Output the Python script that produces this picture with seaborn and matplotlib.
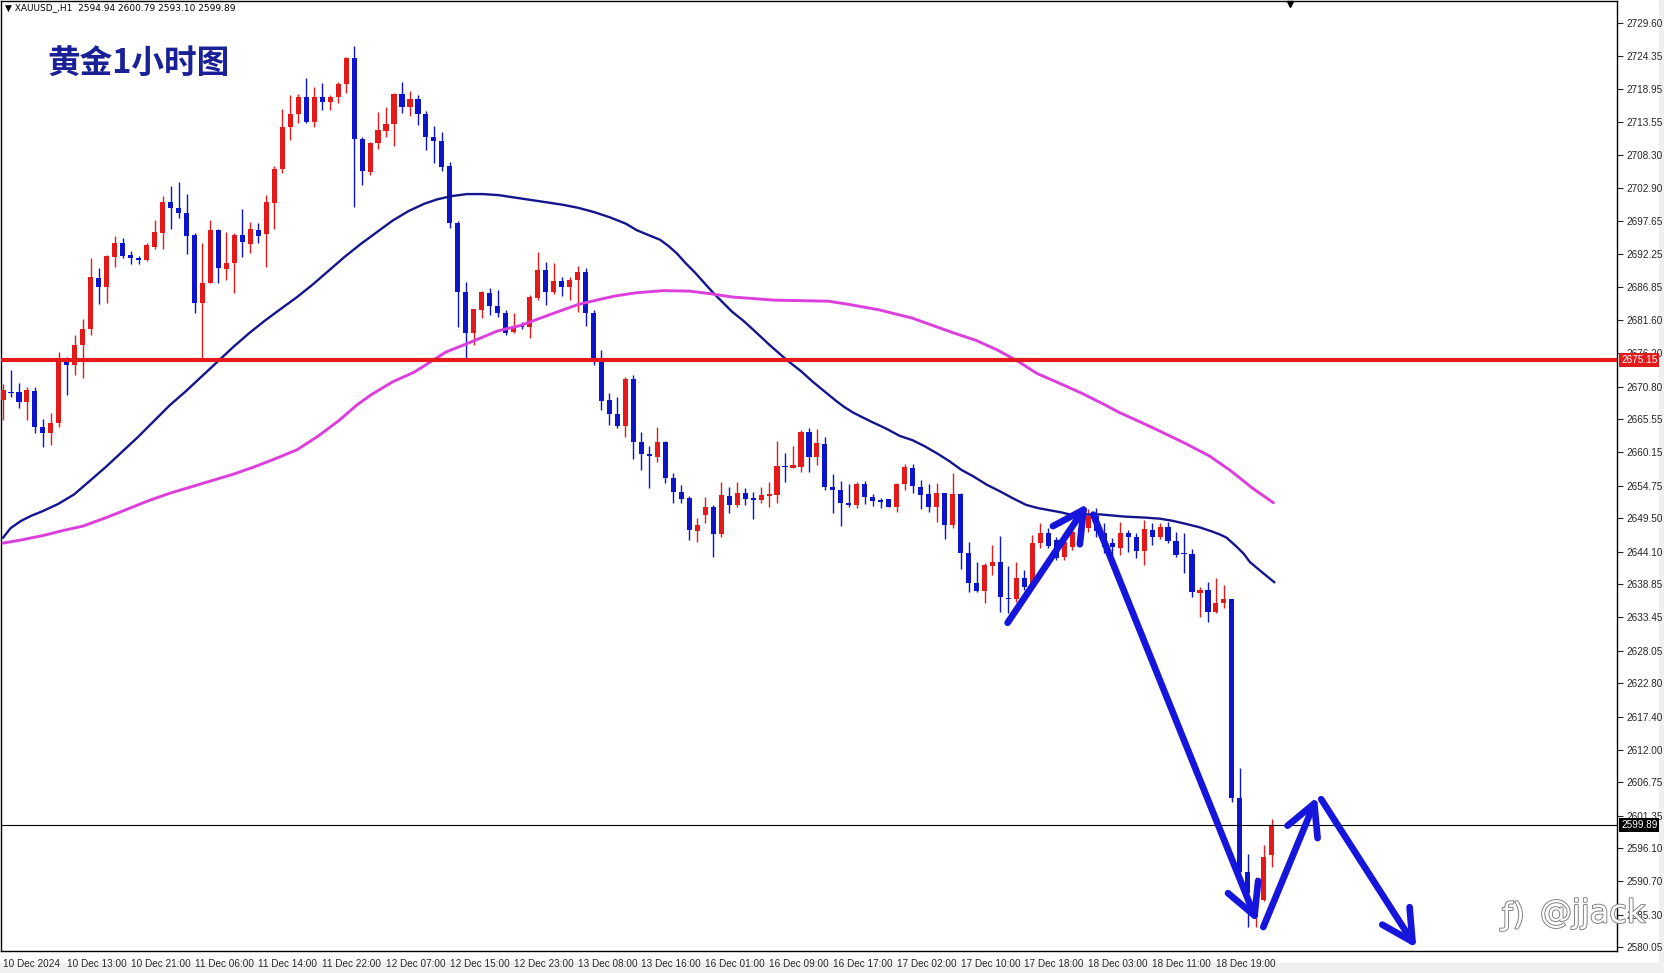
import matplotlib
matplotlib.use('Agg')
import matplotlib.pyplot as plt
import matplotlib.patheffects as pe
from matplotlib.patches import Rectangle, FancyArrowPatch
import seaborn as sns
import pandas as pd

# XAUUSD H1 candles (oldest -> newest)
opens = [2668.63, 2669.90, 2669.98, 2668.36, 2670.09, 2664.21, 2663.24, 2664.86, 2674.84, 2674.30,
         2677.54, 2680.07, 2688.33, 2686.98, 2691.83, 2693.99, 2692.05, 2691.56, 2691.29, 2693.45,
         2695.72, 2700.63, 2699.66, 2698.85, 2695.34, 2684.28, 2687.62, 2696.15, 2689.84, 2690.75,
         2695.34, 2693.88, 2696.15, 2695.45, 2700.58, 2705.97, 2712.77, 2714.92, 2717.62, 2713.68,
         2717.62, 2716.81, 2717.62, 2719.78, 2723.93, 2710.82, 2705.59, 2710.18, 2712.23, 2713.25,
         2718.16, 2716.00, 2717.30, 2714.92, 2711.15, 2710.55, 2706.51, 2697.28, 2686.17, 2679.43,
         2683.20, 2685.90, 2683.85, 2682.66, 2679.70, 2680.77, 2680.40, 2685.09, 2689.68, 2686.06,
         2687.95, 2686.87, 2688.06, 2689.41, 2682.77, 2674.95, 2668.64, 2666.37, 2664.48, 2672.03,
         2661.78, 2659.84, 2659.46, 2661.78, 2655.96, 2653.80, 2652.83, 2647.49, 2650.02, 2651.37,
         2646.95, 2653.15, 2651.64, 2653.53, 2652.56, 2652.45, 2653.15, 2653.26, 2657.95, 2657.68,
         2657.85, 2663.40, 2659.36, 2661.46, 2654.50, 2654.07, 2651.91, 2651.64, 2655.04, 2652.98,
         2652.44, 2652.55, 2651.25, 2655.03, 2657.57, 2654.49, 2653.41, 2651.36, 2653.52, 2648.40,
         2653.41, 2643.81, 2639.06, 2637.77, 2641.81, 2642.46, 2636.63, 2636.36, 2639.76, 2638.41,
         2645.54, 2647.05, 2645.97, 2643.16, 2644.89, 2647.16, 2647.86, 2649.90, 2647.06, 2645.44,
         2644.63, 2647.16, 2646.41, 2644.25, 2647.59, 2646.41, 2648.03, 2645.87, 2643.82, 2643.71,
         2637.45, 2637.88, 2634.38, 2635.73, 2636.37, 2604.17, 2592.30, 2585.00, 2587.71, 2594.94]
highs = [2671.30, 2673.49, 2671.33, 2670.79, 2670.79, 2665.51, 2666.58, 2676.46, 2675.65, 2679.15,
         2681.69, 2691.56, 2690.05, 2692.10, 2695.18, 2694.80, 2692.80, 2691.94, 2693.99, 2697.77,
         2701.71, 2703.32, 2703.97, 2701.98, 2695.72, 2693.99, 2697.77, 2696.31, 2695.88, 2695.61,
         2699.49, 2697.44, 2697.23, 2701.81, 2706.51, 2715.68, 2718.00, 2718.16, 2720.70, 2719.24,
         2719.89, 2718.00, 2720.16, 2724.20, 2725.93, 2711.25, 2710.45, 2715.30, 2716.11, 2718.27,
         2720.16, 2718.70, 2718.00, 2715.46, 2712.98, 2712.06, 2707.20, 2697.60, 2687.79, 2683.40,
         2686.30, 2686.71, 2686.44, 2683.20, 2682.66, 2681.31, 2685.63, 2692.64, 2691.03, 2690.76,
         2688.60, 2688.60, 2690.32, 2689.95, 2683.20, 2676.73, 2669.72, 2669.18, 2672.41, 2672.68,
         2663.51, 2661.19, 2664.32, 2662.05, 2656.87, 2654.88, 2653.10, 2649.48, 2652.99, 2651.64,
         2655.42, 2654.61, 2655.42, 2654.34, 2653.80, 2654.50, 2655.42, 2662.05, 2660.00, 2661.19,
         2663.78, 2664.05, 2663.89, 2662.70, 2656.66, 2655.58, 2655.04, 2655.42, 2655.58, 2653.41,
         2652.71, 2652.66, 2655.14, 2658.27, 2658.27, 2655.68, 2655.03, 2655.25, 2653.63, 2656.76,
         2653.50, 2645.70, 2642.46, 2642.19, 2645.16, 2646.62, 2641.76, 2642.46, 2641.11, 2646.78,
         2648.67, 2647.86, 2646.51, 2645.97, 2647.59, 2648.70, 2651.00, 2651.20, 2648.67, 2646.25,
         2648.94, 2647.59, 2647.06, 2649.21, 2648.78, 2648.67, 2648.94, 2647.32, 2647.06, 2644.47,
         2638.32, 2639.23, 2639.77, 2638.69, 2636.40, 2609.02, 2595.15, 2591.50, 2596.61, 2600.79]
lows = [2665.40, 2669.10, 2667.29, 2665.40, 2663.24, 2661.08, 2661.35, 2664.32, 2669.44, 2672.68,
        2672.14, 2679.15, 2684.17, 2684.28, 2690.11, 2691.56, 2690.65, 2690.65, 2691.18, 2693.02,
        2693.02, 2696.26, 2698.04, 2692.26, 2682.66, 2674.95, 2687.52, 2687.62, 2688.06, 2685.90,
        2691.83, 2692.37, 2693.99, 2690.21, 2696.26, 2705.32, 2710.72, 2713.41, 2713.41, 2712.87,
        2715.57, 2715.57, 2716.65, 2718.38, 2699.93, 2703.43, 2705.05, 2709.20, 2711.25, 2709.74,
        2715.14, 2714.60, 2713.14, 2709.10, 2706.94, 2705.70, 2696.50, 2680.51, 2675.38, 2677.54,
        2681.85, 2682.39, 2682.12, 2679.16, 2679.43, 2680.07, 2678.62, 2684.82, 2684.01, 2685.79,
        2685.52, 2684.82, 2682.93, 2680.61, 2674.30, 2667.02, 2664.59, 2664.05, 2662.70, 2659.09,
        2657.31, 2654.34, 2658.65, 2655.15, 2651.91, 2651.91, 2645.98, 2645.71, 2648.67, 2643.28,
        2646.52, 2650.29, 2651.37, 2651.64, 2649.37, 2652.02, 2651.37, 2651.91, 2655.42, 2657.58,
        2657.04, 2657.04, 2658.12, 2654.07, 2650.40, 2648.24, 2651.26, 2651.10, 2651.80, 2651.47,
        2651.09, 2651.25, 2650.55, 2654.06, 2653.52, 2650.93, 2650.55, 2648.94, 2646.08, 2647.86,
        2641.22, 2637.61, 2637.61, 2635.83, 2640.30, 2634.37, 2634.21, 2635.99, 2637.87, 2638.14,
        2644.62, 2644.62, 2642.73, 2642.73, 2644.35, 2646.20, 2647.30, 2646.50, 2643.82, 2643.55,
        2643.55, 2644.09, 2643.01, 2641.93, 2645.17, 2646.08, 2645.54, 2643.17, 2640.69, 2636.70,
        2633.46, 2632.76, 2634.21, 2634.92, 2603.63, 2592.03, 2583.39, 2583.30, 2587.60, 2593.10]
closes = [2670.25, 2669.70, 2668.36, 2670.25, 2664.21, 2663.35, 2664.86, 2674.95, 2674.30, 2677.54,
          2680.07, 2688.49, 2686.98, 2691.94, 2693.99, 2691.94, 2691.56, 2691.29, 2693.67, 2695.88,
          2700.63, 2699.66, 2698.85, 2695.18, 2684.28, 2687.62, 2696.15, 2689.94, 2690.75, 2695.34,
          2694.15, 2696.31, 2695.23, 2700.63, 2706.02, 2712.77, 2714.92, 2717.62, 2713.68, 2717.62,
          2716.81, 2717.62, 2719.78, 2723.93, 2710.82, 2705.70, 2710.18, 2712.33, 2713.25, 2718.16,
          2716.00, 2717.30, 2714.92, 2711.15, 2710.55, 2706.29, 2697.28, 2686.17, 2679.43, 2683.31,
          2686.17, 2683.85, 2682.66, 2679.43, 2680.40, 2680.40, 2685.36, 2689.68, 2686.17, 2687.95,
          2686.98, 2688.06, 2689.41, 2682.77, 2675.38, 2668.53, 2666.32, 2664.48, 2672.03, 2661.78,
          2659.84, 2659.57, 2661.78, 2655.96, 2653.80, 2652.56, 2647.60, 2648.40, 2651.37, 2646.95,
          2653.26, 2651.64, 2653.53, 2652.56, 2652.45, 2653.26, 2653.42, 2657.95, 2657.74, 2658.12,
          2663.40, 2659.36, 2661.62, 2654.50, 2654.07, 2651.91, 2651.64, 2655.04, 2652.99, 2652.33,
          2652.17, 2651.36, 2655.03, 2657.84, 2654.71, 2653.25, 2651.36, 2653.52, 2648.40, 2653.41,
          2643.81, 2639.06, 2637.77, 2641.92, 2642.46, 2636.69, 2636.36, 2639.76, 2638.41, 2645.54,
          2647.05, 2644.98, 2643.00, 2645.70, 2647.32, 2647.86, 2649.90, 2647.40, 2644.90, 2644.90,
          2647.06, 2646.52, 2644.25, 2647.70, 2646.41, 2648.03, 2645.87, 2643.55, 2643.66, 2637.61,
          2637.88, 2634.38, 2635.73, 2636.37, 2604.17, 2592.30, 2588.79, 2587.70, 2594.72, 2599.89]

x_labels = ['10 Dec 2024', '10 Dec 13:00', '10 Dec 21:00', '11 Dec 06:00', '11 Dec 14:00',
            '11 Dec 22:00', '12 Dec 07:00', '12 Dec 15:00', '12 Dec 23:00', '13 Dec 08:00',
            '13 Dec 16:00', '16 Dec 01:00', '16 Dec 09:00', '16 Dec 17:00', '17 Dec 02:00',
            '17 Dec 10:00', '17 Dec 18:00', '18 Dec 03:00', '18 Dec 11:00', '18 Dec 19:00']
y_ticks = [2729.60, 2724.35, 2718.95, 2713.55, 2708.30, 2702.90, 2697.65, 2692.25, 2686.85,
           2681.60, 2676.20, 2670.80, 2665.55, 2660.15, 2654.75, 2649.50, 2644.10, 2638.85,
           2633.45, 2628.05, 2622.80, 2617.40, 2612.00, 2606.75, 2601.35, 2596.10, 2590.70,
           2585.30, 2580.05]

# moving averages (blue = faster, magenta = slower)
fast_ma_bar = [0, 0.95, 2.28, 3.61, 4.94, 6.94, 8.93, 10.93, 12.92, 14.92, 16.91, 18.91, 20.90,
               22.89, 24.89, 26.88, 28.88, 30.87, 32.87, 34.86, 36.86, 38.85, 40.85, 42.84,
               44.84, 46.83, 48.83, 50.82, 52.82, 54.41, 56.14, 58.14, 60.13, 62.12, 64.78,
               67.44, 70.10, 72.10, 74.09, 76.09, 78.08, 79.41, 81.01, 82.34, 83.40, 84.46,
               85.53, 86.72, 87.79, 88.99, 90.18, 91.38, 92.71, 94.04, 96.03, 98.16, 100.02,
               101.49, 102.95, 104.41, 105.48, 106.54, 107.60, 108.67, 110.66, 112.39, 113.99,
               115.58, 117.18, 118.64, 120.10, 121.57, 123.30, 124.89, 126.62, 128.22, 129.68,
               131.14, 132.60, 133.67, 135.26, 137.52, 140.58, 143.24, 144.97, 146.57, 148.30,
               149.89, 151.49, 152.55, 153.35, 154.54, 155.48, 156.27, 157.87, 159.33]
fast_ma_val = [2646.33, 2647.89, 2649.08, 2649.93, 2650.62, 2651.82, 2653.37, 2655.60, 2657.83,
               2660.24, 2662.64, 2665.22, 2667.79, 2670.02, 2672.43, 2674.83, 2677.24, 2679.47,
               2681.53, 2683.42, 2685.30, 2687.36, 2689.60, 2691.83, 2693.89, 2695.78, 2697.67,
               2699.21, 2700.41, 2701.10, 2701.62, 2701.96, 2701.96, 2701.79, 2701.27, 2700.76,
               2700.24, 2699.73, 2699.04, 2698.18, 2697.15, 2696.12, 2695.26, 2694.57, 2693.55,
               2692.34, 2690.80, 2689.25, 2687.71, 2685.99, 2684.45, 2682.90, 2681.53, 2679.98,
               2677.58, 2675.17, 2673.28, 2671.57, 2670.02, 2668.48, 2667.45, 2666.59, 2665.90,
               2665.21, 2664.01, 2662.81, 2662.12, 2661.09, 2659.89, 2658.69, 2657.32, 2656.29,
               2654.91, 2653.88, 2652.68, 2651.65, 2651.14, 2650.79, 2650.45, 2650.11, 2650.11,
               2650.11, 2649.76, 2649.59, 2649.42, 2649.08, 2648.56, 2648.05, 2647.36, 2646.84,
               2646.33, 2644.95, 2643.75, 2642.38, 2640.66, 2639.12]
slow_ma_bar = [0, 2.28, 4.94, 7.60, 9.99, 12.92, 15.58, 18.24, 20.90, 23.56, 26.22, 28.88, 31.54,
               33.93, 36.86, 39.52, 42.18, 44.31, 46.17, 48.83, 51.49, 53.61, 55.48, 58.14,
               61.99, 64.79, 68.77, 72.10, 74.36, 76.75, 79.41, 82.74, 86.06, 88.72, 91.38,
               96.70, 103.48, 106.01, 109.73, 113.98, 119.17, 121.96, 124.62, 127.28, 129.55,
               132.60, 135.26, 137.92, 139.92, 142.58, 144.57, 148.16, 151.22, 153.88, 156.54,
               159.20]
slow_ma_val = [2645.47, 2645.98, 2646.67, 2647.53, 2648.21, 2649.59, 2650.96, 2652.34, 2653.54,
               2654.57, 2655.60, 2656.63, 2657.83, 2659.03, 2660.58, 2662.81, 2665.39, 2667.79,
               2669.51, 2671.57, 2673.11, 2674.83, 2676.38, 2677.75, 2679.81, 2680.67, 2682.56,
               2684.10, 2684.79, 2685.48, 2685.99, 2686.33, 2686.25, 2685.82, 2685.30, 2684.79,
               2684.62, 2684.10, 2683.24, 2681.87, 2679.47, 2678.27, 2676.72, 2674.83, 2672.94,
               2671.22, 2669.68, 2667.96, 2666.59, 2665.04, 2663.84, 2661.61, 2659.55, 2657.15,
               2654.40, 2652.00]

level_price = 2675.15
last_price = 2599.89

# hand drawn arrows: (bar, price) start -> end
arrow_from = [(125.7, 2632.2), (136.5, 2650.5), (157.8, 2582.9), (165.0, 2604.4)]
arrow_to = [(136.1, 2652.2), (157.3, 2583.7), (164.8, 2604.8), (177.3, 2579.6)]

df = pd.DataFrame({'open': opens, 'high': highs, 'low': lows, 'close': closes})
df['bar'] = range(len(df))
df['up'] = df['close'] >= df['open']

sns.set_style('white')
plt.rcParams['font.family'] = ['DejaVu Sans', 'Noto Sans CJK SC']

red = '#e41a1a'
blue = '#0c14cc'
tick_font = 'Liberation Sans'

fig = plt.figure(figsize=(16.64, 9.73), dpi=100)
fig.patch.set_facecolor('white')
fig.add_artist(Rectangle((0, 0), 1, 10 / 973, transform=fig.transFigure, color='#efefef', zorder=0))
fig.add_artist(Rectangle((1659 / 1664, 0), 5 / 1664, 1, transform=fig.transFigure, color='#efefef', zorder=0))

ax = fig.add_axes([1 / 1664, 1 - 951 / 973, 1616 / 1664, 950 / 973])
ax.set_facecolor('white')

colors = [red if u else blue for u in df['up']]
ax.vlines(df['bar'], df['low'], df['high'], colors=colors, linewidth=1.0, zorder=2)
body_bottom = df[['open', 'close']].min(axis=1)
body_h = (df['close'] - df['open']).abs().clip(lower=0.25)
ax.bar(df['bar'], body_h, bottom=body_bottom, width=0.64, color=colors, linewidth=0, zorder=3)

sns.lineplot(x=fast_ma_bar, y=fast_ma_val, ax=ax, color='#14148e', linewidth=1.7, zorder=4)
sns.lineplot(x=slow_ma_bar, y=slow_ma_val, ax=ax, color='#dd3fdd', linewidth=2.1, zorder=4)

ax.axhline(level_price, color=red, linewidth=3.0, zorder=5)
ax.axhline(last_price, color='black', linewidth=0.8, zorder=5)

for a, b in zip(arrow_from, arrow_to):
    ax.add_patch(FancyArrowPatch(a, b, arrowstyle='->,head_length=0.85,head_width=0.45',
                                 mutation_scale=26, color='#1515dc', linewidth=4.8,
                                 capstyle='round', joinstyle='round', zorder=6, clip_on=False))

ax.set_xlim(-0.25, 202.26)
ax.set_ylim(2579.45, 2733.21)

ax.set_xticks(range(0, 8 * len(x_labels), 8))
ax.set_xticklabels(x_labels, ha='left', family=tick_font)
ax.set_yticks(y_ticks)
ax.set_yticklabels([f'{v:.2f}' for v in y_ticks], family=tick_font)
ax.yaxis.tick_right()
ax.tick_params(axis='y', direction='out', length=4, width=0.8, labelsize=7.2, pad=3,
               right=True, left=False, labelright=True, labelleft=False)
ax.tick_params(axis='x', direction='out', length=4, width=0.8, labelsize=7.2, pad=2)
ax.set_xlabel('')
ax.set_ylabel('')
for s in ax.spines.values():
    s.set_visible(True)
    s.set_color('black')
    s.set_linewidth(1.0)

ytr = ax.get_yaxis_transform()
ax.text(1.0025, level_price, f'{level_price:.2f}', transform=ytr, ha='left', va='center',
        fontsize=7.2, family=tick_font, color='white', zorder=10, clip_on=False,
        bbox=dict(boxstyle='square,pad=0.2', fc=red, ec='none'))
ax.text(1.0025, last_price, f'{last_price:.2f}', transform=ytr, ha='left', va='center',
        fontsize=7.2, family=tick_font, color='white', zorder=10, clip_on=False,
        bbox=dict(boxstyle='square,pad=0.2', fc='black', ec='none'))

ax.plot([161.3], [1 - 3 / 950], transform=ax.get_xaxis_transform(), marker='v', ms=5,
        color='black', clip_on=False, zorder=10)

fig.text(5 / 1664, 1 - 8 / 973, '\u25bc XAUUSD_,H1  2594.94 2600.79 2593.10 2599.89',
         fontsize=6.5, va='center', ha='left', color='black')
fig.text(47 / 1664, 1 - 63 / 973, '黄金1小时图', fontsize=23.5, fontweight='bold',
         color='#1a2196', family=['Noto Sans CJK SC', 'DejaVu Sans'], va='center', ha='left')

wm = [pe.withStroke(linewidth=1.3, foreground='#7a7a7a')]
fig.text(1502 / 1664, 1 - 916 / 973, '\u0192)', fontsize=22, color='white',
         path_effects=wm, va='center', ha='left', zorder=10)
fig.text(1540 / 1664, 1 - 914 / 973, '@jjack', fontsize=23, color='white',
         path_effects=wm, va='center', ha='left', zorder=10)

fig.savefig('out.png', dpi=100)
